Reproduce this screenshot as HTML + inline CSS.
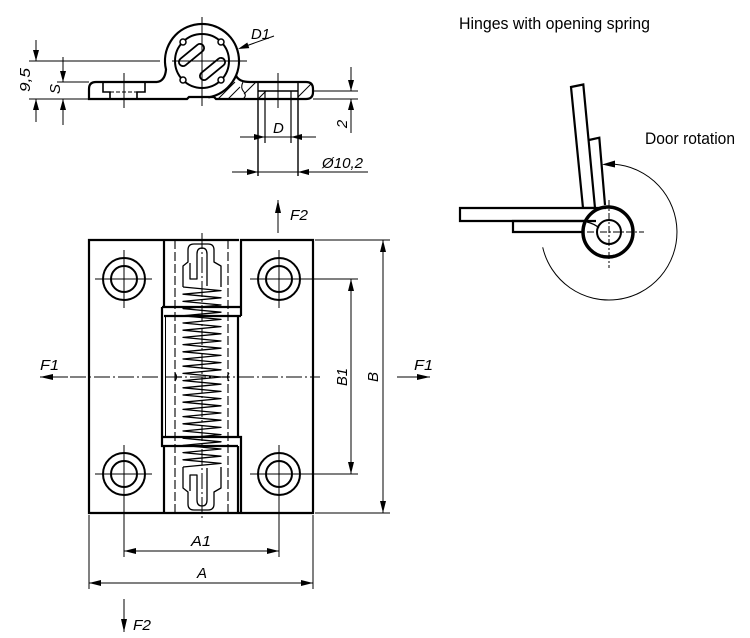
<!DOCTYPE html>
<html><head><meta charset="utf-8"><style>
html,body{margin:0;padding:0;background:#fff;}
svg{display:block;}
text{font-family:"Liberation Sans",sans-serif;fill:#000;}
.it{font-style:italic;font-size:15px;}
</style></head><body>
<svg width="750" height="638" viewBox="0 0 750 638" xmlns="http://www.w3.org/2000/svg">
<rect width="750" height="638" fill="#fff"/>

<!-- ============ TOP SIDE VIEW ============ -->
<g fill="none" stroke="#000">
  <path stroke-width="2.2" d="M 157 82 L 96 82 Q 89 82 89 89 L 89 99 L 187 99 L 189 97 L 214 97 L 216 99 L 306 99 Q 313 99 313 92 L 313 89 Q 313 82 306 82 L 250 82 Q 239 82 236 75.6"/>
  <path stroke-width="2.2" d="M 157 82 Q 165 81 166 69.5 A 37 37 0 1 1 208.4 97.4"/>
  <circle cx="202" cy="61" r="27" stroke-width="2"/>
  <circle cx="183" cy="42" r="3" stroke-width="1.5" fill="#fff"/>
  <circle cx="221" cy="42" r="3" stroke-width="1.5" fill="#fff"/>
  <circle cx="183" cy="80" r="3" stroke-width="1.5" fill="#fff"/>
  <circle cx="221" cy="80" r="3" stroke-width="1.5" fill="#fff"/>
  <line x1="183" y1="62" x2="200" y2="48" stroke-width="10" stroke-linecap="round"/>
  <line x1="183" y1="62" x2="200" y2="48" stroke-width="6.4" stroke-linecap="round" stroke="#fff"/>
  <line x1="204" y1="76" x2="221" y2="62" stroke-width="10" stroke-linecap="round"/>
  <line x1="204" y1="76" x2="221" y2="62" stroke-width="6.4" stroke-linecap="round" stroke="#fff"/>
  <path stroke-width="1.6" d="M 103 82 V 92 H 110 V 99 M 145 82 V 92 H 137 V 99"/>
  <line x1="110" y1="92" x2="137" y2="92" stroke-width="1" stroke-dasharray="4 2"/>
  <line x1="258" y1="82" x2="258" y2="176" stroke-width="1.4"/>
  <line x1="298" y1="82" x2="298" y2="176" stroke-width="1.4"/>
  <line x1="265" y1="91" x2="265" y2="143" stroke-width="1.2"/>
  <line x1="291" y1="91" x2="291" y2="143" stroke-width="1.2"/>
  <line x1="258" y1="91" x2="298" y2="91" stroke-width="1.6"/>
  <g stroke-width="1">
    <line x1="218" y1="99" x2="235" y2="82"/>
    <line x1="228" y1="99" x2="240" y2="87"/>
    <line x1="244" y1="94" x2="256" y2="82"/>
    <line x1="258" y1="99" x2="266" y2="91"/>
    <line x1="298" y1="97" x2="312" y2="83"/>
    <path d="M 243 82 Q 240 88 244 92 Q 247 96 243 99"/>
  </g>
  <g stroke-width="1">
    <line x1="202" y1="17" x2="202" y2="106"/>
    <line x1="29" y1="61" x2="160" y2="61"/>
    <line x1="172" y1="61" x2="247" y2="61"/>
    <line x1="124" y1="73" x2="124" y2="108"/>
    <line x1="278" y1="73" x2="278" y2="108"/>
    <line x1="57" y1="82" x2="89" y2="82"/>
    <line x1="29" y1="99" x2="89" y2="99"/>
    <line x1="313" y1="91" x2="358" y2="91"/>
    <line x1="313" y1="99" x2="358" y2="99"/>
    <line x1="36" y1="40" x2="36" y2="61"/>
    <line x1="36" y1="99" x2="36" y2="122"/>
    <line x1="63" y1="57" x2="63" y2="82"/>
    <line x1="63" y1="99" x2="63" y2="125"/>
    <line x1="351" y1="67" x2="351" y2="91"/>
    <line x1="351" y1="99" x2="351" y2="133"/>
    <line x1="240" y1="137" x2="316" y2="137"/>
    <line x1="232" y1="172" x2="368" y2="172"/>
    <line x1="274" y1="36" x2="246" y2="46"/>
  </g>
</g>
<g fill="#000">
  <polygon points="36,61 33,50 39,50"/>
  <polygon points="36,99 33,110 39,110"/>
  <polygon points="63,82 60,71 66,71"/>
  <polygon points="63,99 60,110 66,110"/>
  <polygon points="351,91 348,80 354,80"/>
  <polygon points="351,99 348,110 354,110"/>
  <polygon points="265,137 254,134 254,140"/>
  <polygon points="291,137 302,134 302,140"/>
  <polygon points="258,172 247,169 247,175"/>
  <polygon points="298,172 309,169 309,175"/>
  <polygon points="238,49 249.3,48.1 247.3,42.5"/>
</g>
<text class="it" x="30" y="80" text-anchor="middle" transform="rotate(-90 30 80)" textLength="24" lengthAdjust="spacingAndGlyphs">9,5</text>
<text class="it" x="60" y="89" text-anchor="middle" transform="rotate(-90 60 89)">S</text>
<text class="it" x="347" y="124" text-anchor="middle" transform="rotate(-90 347 124)">2</text>
<text class="it" x="273" y="133">D</text>
<text class="it" x="322" y="168" textLength="41" lengthAdjust="spacingAndGlyphs">Ø10,2</text>
<text class="it" x="251" y="39" textLength="19" lengthAdjust="spacingAndGlyphs">D1</text>

<!-- ============ FRONT VIEW ============ -->
<g fill="none" stroke="#000">
  <g stroke-width="2.2">
    <path d="M 164 240 L 89 240 L 89 513 L 313 513 L 313 240 L 241 240 L 241 316"/>
    <path d="M 164 240 L 239 240 M 164 240 L 164 307 M 164 316 L 241 316"/>
    <path d="M 162 307 L 241 307 M 162 307 L 162 446 L 238 446 M 238 316 L 238 437"/>
    <path d="M 162 437 L 241 437 L 241 513 M 164 446 L 164 513 M 238 446 L 238 513"/>
  </g>
  <line x1="165.5" y1="316" x2="165.5" y2="437" stroke-width="1"/>
  <line x1="175" y1="240" x2="175" y2="513" stroke-width="1.1" stroke-dasharray="9 3"/>
  <line x1="228" y1="240" x2="228" y2="513" stroke-width="1.1" stroke-dasharray="9 3"/>
  <path stroke-width="1.2" d="M 175 373 Q 178 377 175 381 M 175 377 H 182 M 229 373 Q 226 377 229 381 M 222 377 H 229"/>
  <g stroke-width="1.3" stroke-linejoin="round">
    <polyline points="183,287 221,290.6 183,294.2 221,297.8 183,301.4 221,305 183,308.6 221,312.2 183,315.8 221,319.4 183,323 221,326.6 183,330.2 221,333.8 183,337.4 221,341 183,344.6 221,348.2 183,351.8 221,355.4 183,359 221,362.6 183,366.2 221,369.8 183,373.4 221,377 183,380.6 221,384.2 183,387.8 221,391.4 183,395 221,398.6 183,402.2 221,405.8 183,409.4 221,413 183,416.6 221,420.2 183,423.8 221,427.4 183,431 221,434.6 183,438.2 221,441.8 183,445.4 221,449 183,452.6 221,456.2 183,459.8 221,463.4 183,467"/>
    <g id="plug">
      <path d="M 183 287 L 183 266 L 188 262 L 188 250 Q 188 244 194 244 L 208 244 Q 214 244 214 250 L 214 262 L 221 266 L 221 287"/>
      <path d="M 190 263 L 190 279 L 197 279 L 197 254 Q 197 248 202 248 Q 207 248 207 254 L 207 286"/>
    </g>
    <use href="#plug" transform="translate(0,754) scale(1,-1)"/>
  </g>
  <g stroke-width="2">
    <circle cx="124" cy="279" r="21"/><circle cx="124" cy="279" r="13"/>
    <circle cx="279" cy="279" r="21"/><circle cx="279" cy="279" r="13"/>
    <circle cx="124" cy="474" r="21"/><circle cx="124" cy="474" r="13"/>
    <circle cx="279" cy="474" r="21"/><circle cx="279" cy="474" r="13"/>
  </g>
  <g stroke-width="1">
    <line x1="95" y1="279" x2="152" y2="279"/><line x1="124" y1="250" x2="124" y2="308"/>
    <line x1="250" y1="279" x2="358" y2="279"/><line x1="279" y1="250" x2="279" y2="308"/>
    <line x1="95" y1="474" x2="152" y2="474"/><line x1="124" y1="445" x2="124" y2="557"/>
    <line x1="250" y1="474" x2="358" y2="474"/><line x1="279" y1="445" x2="279" y2="557"/>
    <line x1="202" y1="233" x2="202" y2="520" stroke-dasharray="16 3 2 3"/>
    <line x1="70" y1="377" x2="320" y2="377" stroke-dasharray="16 3 2 3"/>
    <line x1="315" y1="240" x2="390" y2="240"/>
    <line x1="315" y1="513" x2="390" y2="513"/>
    <line x1="383" y1="240" x2="383" y2="513"/>
    <line x1="351" y1="279" x2="351" y2="474"/>
    <line x1="89" y1="515" x2="89" y2="589"/>
    <line x1="313" y1="515" x2="313" y2="589"/>
    <line x1="124" y1="551" x2="279" y2="551"/>
    <line x1="89" y1="583" x2="313" y2="583"/>
    <line x1="40" y1="377" x2="68" y2="377"/>
    <line x1="397" y1="377" x2="430" y2="377"/>
    <line x1="278" y1="200" x2="278" y2="233"/>
    <line x1="124" y1="599" x2="124" y2="632"/>
  </g>
</g>
<g fill="#000">
  <polygon points="383,240 380,252 386,252"/>
  <polygon points="383,513 380,501 386,501"/>
  <polygon points="351,279 348,291 354,291"/>
  <polygon points="351,474 348,462 354,462"/>
  <polygon points="124,551 136,548 136,554"/>
  <polygon points="279,551 267,548 267,554"/>
  <polygon points="89,583 101,580 101,586"/>
  <polygon points="313,583 301,580 301,586"/>
  <polygon points="40,377 53,374 53,380"/>
  <polygon points="430,377 417,374 417,380"/>
  <polygon points="278,200 275,213 281,213"/>
  <polygon points="124,632 121,619 127,619"/>
</g>
<text class="it" x="40" y="370" textLength="19" lengthAdjust="spacingAndGlyphs">F1</text>
<text class="it" x="414" y="370" textLength="19" lengthAdjust="spacingAndGlyphs">F1</text>
<text class="it" x="290" y="220" textLength="18" lengthAdjust="spacingAndGlyphs">F2</text>
<text class="it" x="133" y="630" textLength="18" lengthAdjust="spacingAndGlyphs">F2</text>
<text class="it" x="201" y="546" text-anchor="middle" textLength="20" lengthAdjust="spacingAndGlyphs">A1</text>
<text class="it" x="202" y="578" text-anchor="middle">A</text>
<text class="it" x="347" y="377" text-anchor="middle" transform="rotate(-90 347 377)" textLength="18" lengthAdjust="spacingAndGlyphs">B1</text>
<text class="it" x="378" y="377" text-anchor="middle" transform="rotate(-90 378 377)">B</text>

<!-- ============ RIGHT: HINGE SCHEMATIC ============ -->
<text x="459" y="29" font-size="17" textLength="191" lengthAdjust="spacingAndGlyphs">Hinges with opening spring</text>
<text x="645" y="144" font-size="17" textLength="90" lengthAdjust="spacingAndGlyphs">Door rotation</text>
<g fill="none" stroke="#000">
  <polygon stroke-width="2.2" points="571,87 583.3,84.5 595,208 583,208"/>
  <path stroke-width="2.2" d="M 589 140 L 599.3 137.7 L 605 205"/>
  <path stroke-width="2.2" fill="#fff" d="M 606 208 L 460 208 L 460 221 L 596 221"/>
  <path stroke-width="2.2" d="M 585 221 L 513 221 L 513 232 L 584 232"/>
  <circle cx="608" cy="232" r="25" stroke-width="3.5"/>
  <path stroke-width="1.2" d="M 587 222 Q 595 224 599 228"/>
  <circle cx="609" cy="232" r="12" stroke-width="2"/>
  <g stroke-width="1">
    <line x1="609" y1="200" x2="609" y2="268" stroke-dasharray="7 2 2 2"/>
    <line x1="587" y1="232" x2="644" y2="232" stroke-dasharray="7 2 2 2"/>
    <path d="M 614.9 164.3 A 68 68 0 1 1 542.7 247.3"/>
  </g>
</g>
<polygon points="602,164.5 615,160.5 615,167.5" fill="#000"/>
</svg>
</body></html>
